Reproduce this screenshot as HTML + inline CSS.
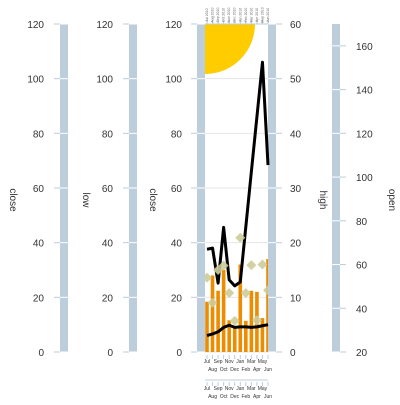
<!DOCTYPE html>
<html><head><meta charset="utf-8"><style>
body{margin:0;background:#fff;width:400px;height:400px;overflow:hidden}
svg text{font-family:"Liberation Sans",sans-serif}
</style></head><body>
<svg id="c" width="400" height="400"></svg>
<script>
const months=['Jul','Aug','Sep','Oct','Nov','Dec','Jan','Feb','Mar','Apr','May','Jun'];
const barVals=[9.2,14,11.2,15,5.8,4.6,16,5.7,11.2,11,6.2,17];
const diamondVals=[13.6,9,15,15.8,10.8,5.7,20.9,10.8,15.9,5.8,16,11.3];
const lowLine=[3,3.3,3.7,4.5,4.9,4.5,4.6,4.6,4.5,4.6,4.8,5];
const highLine=[18.8,19,12.6,22.8,13.2,12.1,12.8,22.9,33,43,53,34.2];
const leftTicks=[0,20,40,60,80,100,120];
const rightTicks=[0,10,20,30,40,50,60];
const openTicks=[20,40,60,80,100,120,140,160];
const NS='http://www.w3.org/2000/svg';
const svg=document.getElementById('c');
function el(t,a,p){const e=document.createElementNS(NS,t);for(const k in a)e.setAttribute(k,a[k]);(p||svg).appendChild(e);return e;}
const X0=205,X1=268,Y0=352,Y1=24;
const yR=v=>Y0-v*(Y0-Y1)/60;
const yL=v=>Y0-v*(Y0-Y1)/120;
const yO=v=>Y0-(v-20)*(Y0-Y1)/150;
const xP=i=>207+i*(61/11);
// gridlines
rightTicks.forEach(t=>{const g=el('line',{x1:X0,x2:X1,y1:yR(t),y2:yR(t),stroke:'#e6e6e6','stroke-width':1});
});
// clip
const cp=el('clipPath',{id:'pc'});el('rect',{x:X0,y:Y1,width:X1-X0,height:Y0-Y1},cp);
const sun=el('circle',{cx:X0,cy:Y1,r:50,fill:'#ffcc00','clip-path':'url(#pc)'});

// vertical axis bands
function band(x,ticks,yf,labX,anchor,name,title,titleX){
 const r=el('rect',{x:x,y:Y1,width:8,height:Y0-Y1,fill:'#bccddc'});
 
 ticks.forEach(t=>{const y=yf(t);
  el('line',{x1:x,x2:x+8,y1:y,y2:y,stroke:'#fff','stroke-width':1});
  const tk=el('line',{x1:anchor=='end'?x-6:x+8,x2:anchor=='end'?x:x+14,y1:y,y2:y,stroke:'#bccddc','stroke-width':1});
  const tx=el('text',{x:labX,y:y+4,'font-size':10,fill:'#333','text-anchor':anchor});tx.textContent=t;
  });
 const tt=el('text',{x:titleX,y:200,'font-size':10,fill:'#333','text-anchor':'middle',transform:`rotate(90 ${titleX} 200)`});
 tt.textContent=title;
}
band(60,leftTicks,yL,44,'end','close-left','close',10);
band(129,leftTicks,yL,113,'end','low','low',83);
band(197,leftTicks,yL,182,'end','close-inner','close',150);
band(268,rightTicks,yR,290,'start','high','high',320);
band(332,openTicks,yO,356,'start','open','open',389);
// bars
barVals.forEach((v,i)=>{const b=el('rect',{x:xP(i)-1.8,y:yR(v),width:3.6,height:Y0-yR(v),fill:'#ee8c00','clip-path':'url(#pc)'});
});
// lines
function line(vals,name){const p=el('polyline',{points:vals.map((v,i)=>xP(i)+','+yR(v)).join(' '),fill:'none',stroke:'#000','stroke-width':3,'stroke-linejoin':'round'});
}
line(highLine,'high-line');line(lowLine,'low-line');
// diamonds
diamondVals.forEach((v,i)=>{const x=xP(i),y=yR(v);
const d=el('polygon',{points:`${x},${y-5} ${x+5},${y} ${x},${y+5} ${x-5},${y}`,fill:'#cdcc99','fill-opacity':0.9,'clip-path':'url(#pc)'});
});
// bottom axes
function xAxis(y0,name){
 months.forEach((m,i)=>{const x=xP(i);el('line',{x1:x,x2:x,y1:y0,y2:y0+4,stroke:'#bccddc'});
 const t=el('text',{x:x,y:y0+(i%2?16:8),'font-size':5,fill:'#333','text-anchor':'middle'});t.textContent=m;
 });
}
xAxis(355,'x-axis-bottom');
el('line',{x1:X0,x2:X1,y1:380,y2:380,stroke:'#bccddc'});
xAxis(382,'x-axis-bottom-2');
// top axis
el('line',{x1:X0,x2:X1,y1:Y1,y2:Y1,stroke:'#bccddc'});
months.forEach((m,i)=>{const x=xP(i);el('line',{x1:x,x2:x,y1:Y1-4,y2:Y1,stroke:'#bccddc'});
const t=el('text',{x:x+1,y:15,'font-size':3.5,fill:'#666','text-anchor':'middle',transform:`rotate(-90 ${x+1} 15)`});t.textContent=m+' 2010';
});
</script>
</body></html>
